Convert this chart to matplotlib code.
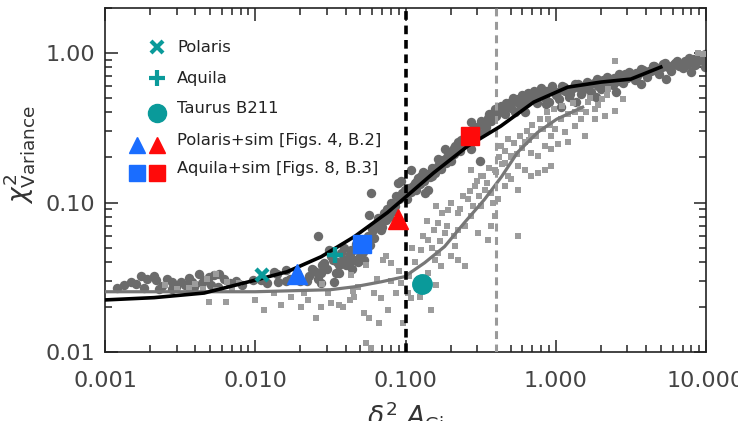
import numpy as np
import matplotlib
matplotlib.use("Agg")
import matplotlib.pyplot as plt

# dark grey circles (observed data)
dark_x = [0.00134, 0.00148, 0.00173, 0.00191, 0.00212, 0.00218, 0.00182, 0.00241, 0.00281, 0.00296,
          0.0032, 0.00363, 0.00392, 0.00423, 0.00457, 0.00493, 0.00533, 0.00575, 0.00507, 0.00561,
          0.0096, 0.0012, 0.0016, 0.0026, 0.0034, 0.0044, 0.0062, 0.0068, 0.0075, 0.0082,
          0.0023, 0.0038, 0.0028,
          0.0109, 0.0134, 0.0160, 0.0141, 0.0229, 0.0254, 0.026, 0.0288, 0.0274, 0.0311,
          0.0327, 0.0363, 0.0382, 0.0412, 0.0457, 0.059, 0.0575, 0.0605, 0.0689, 0.0743,
          0.0803, 0.0867, 0.0889, 0.0935, 0.0985, 0.0822, 0.0653, 0.0274, 0.0336, 0.0241,
          0.0345, 0.0434, 0.047, 0.043, 0.052, 0.039, 0.064, 0.072, 0.056, 0.020, 0.017, 0.012,
          0.030, 0.032, 0.035, 0.037, 0.040, 0.042, 0.044, 0.048, 0.050, 0.053, 0.036, 0.045,
          0.058, 0.060, 0.066, 0.075, 0.078, 0.085, 0.09, 0.095, 0.07, 0.062,
          0.014, 0.016, 0.019, 0.022, 0.024, 0.026, 0.028,
          0.109, 0.115, 0.127, 0.141, 0.156, 0.164, 0.182, 0.202, 0.223, 0.247,
          0.274, 0.320, 0.354, 0.336, 0.392, 0.434, 0.457, 0.507, 0.561, 0.621,
          0.689, 0.762, 0.845, 0.936, 0.533, 0.621, 0.311, 0.134, 0.1035, 0.274,
          0.12, 0.15, 0.17, 0.19, 0.21, 0.24, 0.29, 0.38, 0.42, 0.48, 0.58, 0.67, 0.105, 0.13,
          0.102, 0.108, 0.112, 0.118, 0.122, 0.125, 0.133, 0.138, 0.145, 0.15, 0.158, 0.165,
          0.172, 0.178, 0.185, 0.195, 0.20, 0.21, 0.215, 0.23, 0.235, 0.25, 0.26, 0.28,
          0.30, 0.31, 0.33, 0.345, 0.36, 0.37, 0.40, 0.41, 0.44, 0.47, 0.50, 0.52,
          0.55, 0.60, 0.63, 0.65, 0.70, 0.72, 0.80, 0.82, 0.88, 0.95,
          0.794, 0.858, 0.955, 1.047, 1.13, 1.22, 1.34, 1.47, 1.61, 1.71,
          1.88, 2.0, 2.19, 2.40, 2.63, 2.80, 3.07, 3.36, 3.69, 4.04,
          4.43, 4.86, 5.33, 5.84, 6.41, 7.03, 7.71, 8.45, 9.26, 9.9,
          1.08, 1.36, 1.85, 2.51, 3.69, 5.41, 7.94, 9.9, 9.9, 7.36, 4.30, 2.93,
          0.75, 0.85, 0.9, 1.0, 1.15, 1.25, 1.45, 1.55, 1.7, 2.1, 2.3, 2.7, 3.2, 3.9,
          4.6, 5.1, 6.0, 6.8, 7.4, 8.1, 8.8, 9.5,
          1.02, 1.1, 1.2, 1.3, 1.4, 1.5, 1.65, 1.8, 1.9, 2.05, 2.2, 2.45, 2.6, 2.9, 3.0,
          3.4, 3.5, 3.8, 4.2, 4.5, 4.8, 5.2, 5.6, 6.2, 6.6, 7.2, 7.6, 8.3, 8.6, 9.1, 9.7, 9.8]
dark_y = [0.0282, 0.0296, 0.032, 0.0309, 0.0324, 0.0304, 0.0268, 0.0277, 0.0292, 0.0274,
          0.0296, 0.0313, 0.0272, 0.0334, 0.0304, 0.0317, 0.0329, 0.0334, 0.0282, 0.0274,
          0.0304, 0.027, 0.0285, 0.031, 0.028, 0.029, 0.031, 0.029, 0.030, 0.028,
          0.0265, 0.0295, 0.0262,
          0.0304, 0.0343, 0.0351, 0.0296, 0.032, 0.0343, 0.0594, 0.0394, 0.0337, 0.0484,
          0.0414, 0.0384, 0.0414, 0.0394, 0.0414, 0.116, 0.083, 0.0659, 0.0659, 0.0769,
          0.0995, 0.110, 0.136, 0.139, 0.122, 0.0874, 0.0789, 0.0289, 0.0296, 0.0355,
          0.0337, 0.0484, 0.053, 0.045, 0.047, 0.050, 0.072, 0.085, 0.060, 0.030, 0.031, 0.029,
          0.036, 0.044, 0.040, 0.046, 0.038, 0.043, 0.036, 0.040, 0.044, 0.041, 0.034, 0.048,
          0.052, 0.066, 0.075, 0.090, 0.080, 0.095, 0.105, 0.115, 0.069, 0.058,
          0.033, 0.030, 0.034, 0.030, 0.036, 0.031, 0.038,
          0.166, 0.136, 0.150, 0.122, 0.166, 0.194, 0.227, 0.205, 0.252, 0.279,
          0.343, 0.351, 0.370, 0.301, 0.421, 0.443, 0.390, 0.467, 0.491, 0.479,
          0.531, 0.517, 0.558, 0.558, 0.400, 0.400, 0.189, 0.116, 0.116, 0.227,
          0.14, 0.15, 0.18, 0.20, 0.23, 0.25, 0.31, 0.36, 0.40, 0.44, 0.45, 0.50, 0.125, 0.16,
          0.105, 0.118, 0.128, 0.122, 0.145, 0.132, 0.140, 0.155, 0.148, 0.170, 0.158, 0.175,
          0.168, 0.192, 0.185, 0.215, 0.19, 0.21, 0.24, 0.22, 0.26, 0.25, 0.29, 0.27,
          0.32, 0.29, 0.34, 0.32, 0.39, 0.35, 0.38, 0.43, 0.41, 0.46, 0.43, 0.50,
          0.47, 0.52, 0.46, 0.54, 0.50, 0.56, 0.58, 0.52, 0.56, 0.60,
          0.531, 0.455, 0.556, 0.491, 0.591, 0.507, 0.619, 0.531, 0.639, 0.548,
          0.669, 0.573, 0.690, 0.610, 0.723, 0.629, 0.745, 0.659, 0.781, 0.690,
          0.818, 0.723, 0.857, 0.757, 0.884, 0.793, 0.926, 0.831, 0.955, 0.870,
          0.434, 0.469, 0.507, 0.548, 0.619, 0.669, 0.745, 0.805, 0.985, 0.857, 0.757, 0.680,
          0.46, 0.50, 0.47, 0.52, 0.56, 0.53, 0.58, 0.60, 0.62, 0.62, 0.66, 0.67, 0.70, 0.73,
          0.77, 0.80, 0.83, 0.85, 0.87, 0.88, 0.90, 0.92,
          0.55, 0.60, 0.55, 0.58, 0.62, 0.56, 0.59, 0.63, 0.60, 0.66, 0.63, 0.68, 0.65, 0.72, 0.68,
          0.74, 0.70, 0.77, 0.76, 0.82, 0.79, 0.84, 0.81, 0.86, 0.82, 0.89, 0.84, 0.91, 0.86, 0.93, 0.88, 0.95]

# light grey squares (simulations)
light_x = [0.0049, 0.0064, 0.0099, 0.0030, 0.0036, 0.0045, 0.0055, 0.0070, 0.0078, 0.0025,
           0.0040, 0.0048, 0.0055, 0.0065,
           0.0115, 0.0148, 0.0173, 0.0202, 0.0224, 0.0254, 0.0274, 0.032, 0.0363, 0.0424,
           0.0434, 0.0481, 0.0533, 0.0575, 0.0547, 0.059, 0.0621, 0.0706, 0.0743, 0.0803,
           0.0689, 0.0762, 0.0671, 0.0867, 0.0935, 0.0457, 0.0382, 0.0303, 0.0212, 0.0134,
           0.0959, 0.045, 0.028, 0.065, 0.08, 0.09, 0.055,
           0.1035, 0.109, 0.124, 0.148, 0.141, 0.156, 0.173, 0.164, 0.202, 0.223,
           0.247, 0.212, 0.182, 0.223, 0.274, 0.303, 0.354, 0.373, 0.392, 0.320,
           0.260, 0.288, 0.336, 0.373, 0.412, 0.457, 0.507, 0.561, 0.392, 0.457,
           0.507, 0.561, 0.621, 0.689, 0.762, 0.845, 0.936, 0.689, 0.803, 0.889,
           0.936, 0.561, 0.274, 0.320, 0.191, 0.223, 0.160, 0.164, 0.127, 0.141,
           0.434, 0.481, 0.621, 0.689, 0.762, 0.845, 0.936,
           0.11, 0.115, 0.13, 0.14, 0.15, 0.155, 0.17, 0.175, 0.19, 0.20, 0.21, 0.23,
           0.24, 0.25, 0.27, 0.28, 0.30, 0.31, 0.33, 0.35, 0.36, 0.38, 0.40, 0.42,
           0.44, 0.46, 0.48, 0.50, 0.53, 0.55, 0.58, 0.60, 0.64, 0.66, 0.70, 0.74,
           0.78, 0.82, 0.88, 0.92, 0.97, 1.1, 1.2, 1.3, 1.45, 1.6, 1.7, 1.9, 2.2,
           0.13, 0.16, 0.12, 0.105,
           2.47, 2.81, 2.47, 1.82, 1.56, 1.21, 1.04, 1.34, 1.64, 2.02,
           2.23, 1.34, 1.09, 1.82, 2.12, 1.15, 1.48, 0.985, 8.8, 9.6]
light_y = [0.0217, 0.0217, 0.0224, 0.0265, 0.027, 0.0262, 0.026, 0.0265, 0.029, 0.028,
           0.0285, 0.031, 0.033, 0.0292,
           0.0191, 0.0207, 0.0235, 0.0201, 0.0223, 0.0168, 0.0201, 0.0212, 0.0207, 0.0223,
           0.0329, 0.0274, 0.0182, 0.0168, 0.0114, 0.0106, 0.0248, 0.0414, 0.0436, 0.0394,
           0.0229, 0.0191, 0.0156, 0.0248, 0.0289, 0.0235, 0.0201, 0.0248, 0.0248, 0.0248,
           0.0156, 0.0255, 0.0285, 0.031, 0.030, 0.035, 0.038,
           0.0248, 0.0229, 0.0235, 0.0191, 0.0337, 0.0414, 0.0374, 0.0460, 0.0436, 0.0414,
           0.0374, 0.0509, 0.0626, 0.0659, 0.0809, 0.0626, 0.0565, 0.0693, 0.0809, 0.0944,
           0.105, 0.129, 0.122, 0.116, 0.105, 0.129, 0.143, 0.122, 0.166, 0.185,
           0.205, 0.175, 0.166, 0.216, 0.205, 0.239, 0.227, 0.279, 0.309, 0.361,
           0.175, 0.0594, 0.166, 0.150, 0.0897, 0.0853, 0.0944, 0.0731, 0.0484, 0.0565,
           0.239, 0.265, 0.252, 0.150, 0.158, 0.166, 0.279,
           0.05, 0.04, 0.06, 0.075, 0.05, 0.065, 0.055, 0.085, 0.07, 0.10, 0.06, 0.09,
           0.11, 0.07, 0.12, 0.095, 0.14, 0.11, 0.15, 0.135, 0.17, 0.10, 0.16, 0.20,
           0.18, 0.22, 0.15, 0.20, 0.25, 0.21, 0.28, 0.23, 0.30, 0.26, 0.33, 0.28,
           0.36, 0.31, 0.40, 0.33, 0.42, 0.44, 0.39, 0.46, 0.42, 0.40, 0.50, 0.45, 0.52,
           0.03, 0.028, 0.027, 0.032,
           0.888, 0.491, 0.410, 0.361, 0.279, 0.252, 0.245, 0.325, 0.467, 0.491,
           0.573, 0.400, 0.361, 0.421, 0.380, 0.294, 0.361, 0.309, 1.0, 0.99]

# fitted curves
black_x = [0.001, 0.00212, 0.00457, 0.0102, 0.0163, 0.0275, 0.0457, 0.0759, 0.1015, 0.154,
           0.259, 0.43, 0.713, 1.2, 2.0, 3.16, 5.0]
black_y = [0.0223, 0.0231, 0.0248, 0.0304, 0.0344, 0.0434, 0.0591, 0.0857, 0.110, 0.158,
           0.238, 0.324, 0.469, 0.591, 0.639, 0.669, 0.805]
grey_x = [0.001, 0.01, 0.0316, 0.0457, 0.0692, 0.0985, 0.134, 0.182, 0.247, 0.336,
          0.436, 0.558, 0.759, 1.015, 1.51]
grey_y = [0.0253, 0.0253, 0.0261, 0.0273, 0.0295, 0.0319, 0.0395, 0.0507, 0.0734, 0.105,
          0.149, 0.217, 0.295, 0.361, 0.434]

# vertical thresholds
vline_black = 0.1
vline_grey = 0.4

# individual measurements
polaris = (0.0111, 0.0329)
aquila = (0.034, 0.0448)
taurus = (0.128, 0.0286)
pol_sim_blue = (0.019, 0.033)
pol_sim_red = (0.0885, 0.077)
aq_sim_blue = (0.0517, 0.053)
aq_sim_red = (0.267, 0.277)

xticks = [0.001, 0.01, 0.1, 1.0, 10.0]
xticklabels = ["0.001", "0.010", "0.100", "1.000", "10.000"]
yticks = [0.01, 0.1, 1.0]
yticklabels = ["0.01", "0.10", "1.00"]

teal = "#0a9a9a"
blue = "#1a6dff"
red = "#ff0a0a"

fig = plt.figure(figsize=(7.38, 4.21), dpi=100)
ax = fig.add_axes([105/738, 1 - 352/421, 601/738, 344/421])

ax.scatter(dark_x, dark_y, s=46, marker="o", color="#6b6b6b", linewidths=0, zorder=2)
ax.scatter(light_x, light_y, s=15, marker="s", color="#9c9c9c", linewidths=0, zorder=3)

ax.plot(grey_x, grey_y, color="#777777", lw=2.3, zorder=4)
ax.plot(black_x, black_y, color="black", lw=2.6, zorder=5)

ax.axvline(vline_black, color="black", lw=2.6, ls=(0, (2.4, 1.6)), zorder=4)
ax.axvline(vline_grey, color="#9a9a9a", lw=2.2, ls=(0, (2.6, 1.8)), zorder=4)

ax.plot(*polaris, marker="x", ms=9, mew=3.2, color=teal, ls="none", zorder=6)
ax.plot(*aquila, marker="+", ms=12, mew=3.2, color=teal, ls="none", zorder=6)
ax.plot(*taurus, marker="o", ms=14, color=teal, ls="none", zorder=6)
ax.plot(*pol_sim_blue, marker="^", ms=14, color=blue, ls="none", zorder=6)
ax.plot(*pol_sim_red, marker="^", ms=14, color=red, ls="none", zorder=6)
ax.plot(*aq_sim_blue, marker="s", ms=13, color=blue, ls="none", zorder=6)
ax.plot(*aq_sim_red, marker="s", ms=13, color=red, ls="none", zorder=6)

ax.set_xscale("log")
ax.set_yscale("log")
ax.set_xlim(0.001, 10)
ax.set_ylim(0.01, 2.0)
ax.set_xticks(xticks)
ax.set_xticklabels(xticklabels)
ax.set_yticks(yticks)
ax.set_yticklabels(yticklabels)
ax.tick_params(which="both", direction="in", top=True, right=True, color="#222222", width=1.1)
ax.tick_params(which="major", length=9)
ax.tick_params(which="minor", length=5)
ax.tick_params(axis="x", which="major", labelsize=16, pad=14, labelcolor="#444444")
ax.tick_params(axis="y", which="major", labelsize=16, pad=7, labelcolor="#444444")
for sp in ax.spines.values():
    sp.set_color("#222222")
    sp.set_linewidth(1.2)

# hand-drawn legend, as in the original
leg_rows = [0.887, 0.797, 0.695, 0.602, 0.520]
txt_rows = [0.884, 0.794, 0.709, 0.616, 0.532]
kw = dict(transform=ax.transAxes, ls="none", clip_on=False, zorder=7)
ax.plot(0.0865, leg_rows[0], marker="x", ms=8, mew=3.0, color=teal, **kw)
ax.plot(0.0865, leg_rows[1], marker="+", ms=11, mew=3.0, color=teal, **kw)
ax.plot(0.0865, leg_rows[2], marker="o", ms=13, color=teal, **kw)
ax.plot(0.053, leg_rows[3], marker="^", ms=12, color=blue, **kw)
ax.plot(0.0865, leg_rows[3], marker="^", ms=12, color=red, **kw)
ax.plot(0.053, leg_rows[4], marker="s", ms=11, color=blue, **kw)
ax.plot(0.0865, leg_rows[4], marker="s", ms=11, color=red, **kw)
labels = ["Polaris", "Aquila", "Taurus B211", "Polaris+sim [Figs. 4, B.2]", "Aquila+sim [Figs. 8, B.3]"]
for yy, lab in zip(txt_rows, labels):
    ax.text(0.12, yy, lab, transform=ax.transAxes, fontsize=11.8, color="#222222",
            va="center", ha="left")

fig.text(19/738, 1 - 155/421, r"$\chi^2_{\mathrm{Variance}}$", rotation=90,
         fontsize=19, color="#333333", ha="center", va="center")
fig.text(405/738, 1 - 399/421, r"$\delta^2_{\mathrm{v}}\ A_{\mathrm{Gi}}$",
         fontsize=19, color="#333333", ha="center", va="top")

fig.savefig("out.png", dpi=100)
